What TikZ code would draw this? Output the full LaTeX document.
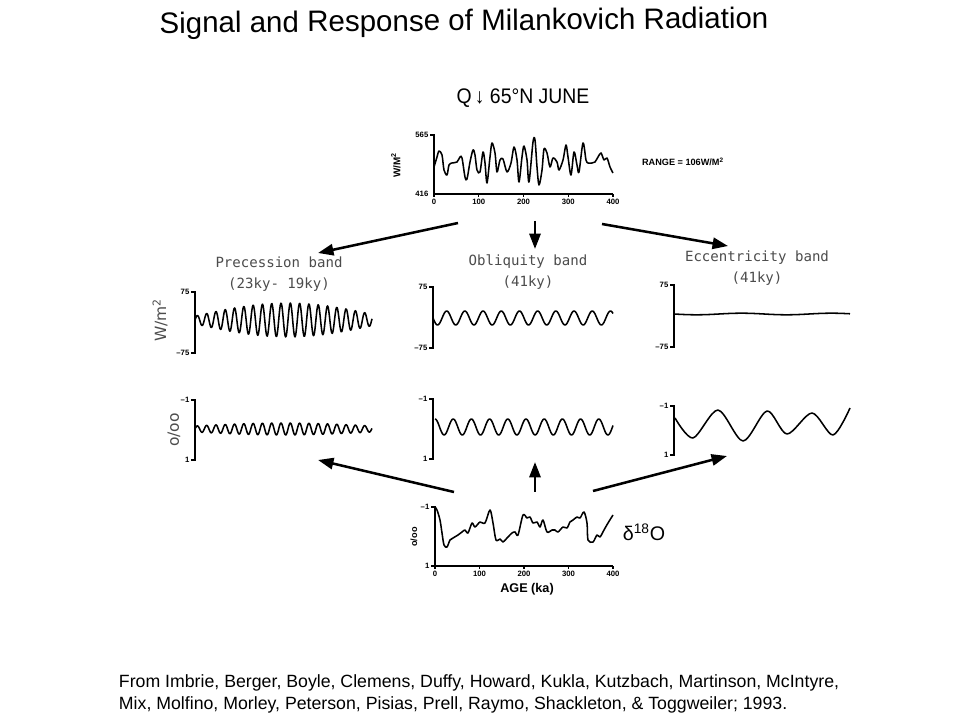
\documentclass[tikz,border=0pt]{standalone}
\usepackage{fontspec}
\setmainfont{Liberation Sans}
\newfontfamily\bandfont{DejaVu Sans Mono}
\newfontfamily\unitfont{DejaVu Sans}
\usetikzlibrary{arrows.meta}

\begin{document}
\begin{tikzpicture}[x=0.025cm, y=-0.025cm,
  curve/.style={line width=1.1pt, line join=round},
  axisline/.style={line width=0.9pt},
  bigarrow/.style={line width=1.8pt, -{Triangle[length=11pt, width=8pt]}},
  band/.style={font=\bandfont\fontsize{10}{15}\selectfont, text=black!70, align=center},
  tick/.style={font=\bfseries\fontsize{5.5}{6}\selectfont, inner sep=1pt},
  unit/.style={font=\unitfont\fontsize{11}{12}\selectfont, text=black!70, rotate=90}]
\useasboundingbox[fill=white] (0,0) rectangle (960,720);

\node[rotate=0.5] (title) at (464,23) {\fontsize{21}{24}\selectfont Signal and Response of Milankovich Radiation};

\node[xscale=0.92] (qtitle) at (523,98) {\fontsize{15}{16}\selectfont Q\,↓ 65°N JUNE};
\draw[axisline] (430,135) -- (434,135) -- (434,194) -- (613,194);
\foreach \v [count=\i from 0] in {0,100,200,300,400}
  \draw[axisline] (434+44.75*\i,194) -- ++(0,3) node[tick, below] (qx\i) {\v};
\node[tick, left] (qhi) at (430,135) {565};
\node[tick, left] (qlo) at (430,194) {416};
\node[tick, rotate=90, font=\bfseries\fontsize{7}{8}\selectfont] (qunit) at (396,165) {W/M\textsuperscript{2}};
\node[tick, font=\bfseries\fontsize{6.5}{7}\selectfont] (range) at (683,162) {RANGE = 106W/M\textsuperscript{2}};
\draw[curve] plot[smooth, tension=0.5] coordinates {(434,167) (437,157) (439,151) (442,155) (444,170) (447,175) (449,165) (452,163) (457,162) (460,157) (462,158) (465,177) (467,179) (470,162) (473,150) (475,155) (477,170) (480,172) (483,152) (485,163) (487,183) (490,157) (492,143) (495,153) (497,172) (500,160) (503,159) (507,172) (511,163) (514,147) (517,160) (519,182) (522,157) (524,146) (527,160) (529,182) (533,142) (535,140) (537,167) (539,185) (542,170) (544,149) (547,153) (550,167) (553,158) (557,162) (559,170) (563,160) (566,145) (568,157) (571,175) (574,152) (577,165) (579,172) (583,143) (586,160) (588,163) (592,163) (595,162) (598,157) (601,153) (604,160) (607,158) (610,167) (613,173)};

\coordinate (sigL) at (458,223);
\coordinate (sigM) at (535,221);
\coordinate (sigR) at (602,224);
\coordinate (tipL) at (318,253);
\coordinate (tipM) at (535,249);
\coordinate (tipR) at (728,246);
\draw[bigarrow] (sigL) -- (tipL);
\draw[bigarrow] (sigM) -- (tipM);
\draw[bigarrow] (sigR) -- (tipR);

\node[band] (prec) at (279,274) {Precession band\\(23ky- 19ky)};
\node[band] (obl) at (528,272) {Obliquity band\\(41ky)};
\node[band] (ecc) at (757,268) {Eccentricity band\\(41ky)};

\node[unit] (wm) at (160,320) {W/m\textsuperscript{2}};
\node[unit] (pm) at (174,430) {o/oo};

\draw[axisline] (191,292) -- (195,292) -- (195,353) -- (191,353);
\node[tick, left] at (191,292) {75};
\node[tick, left] at (191,353) {\textendash75};
\draw[curve] plot[domain=195:372, samples=300] (\x, {320 - (4+13*sin((\x-195)*0.973))*sin((\x-195)*38.71)});

\draw[axisline] (191,400) -- (195,400) -- (195,460) -- (191,460);
\node[tick, left] at (191,400) {\textendash1};
\node[tick, left] at (191,460) {1};
\draw[curve] plot[domain=195:372, samples=300] (\x, {429 - (3+3*sin((\x-195)*1.017))*sin((\x-195)*38.71)});

\draw[axisline] (429,287) -- (433,287) -- (433,348) -- (429,348);
\node[tick, left] at (429,287) {75};
\node[tick, left] at (429,348) {\textendash75};
\draw[curve] plot[domain=433:613, samples=200] (\x, {318 + 7*sin((\x-433)*19.78)});

\draw[axisline] (429,399) -- (433,399) -- (433,459) -- (429,459);
\node[tick, left] at (429,399) {\textendash1};
\node[tick, left] at (429,459) {1};
\draw[curve] plot[domain=435:613, samples=200] (\x, {427 - 8*cos((\x-435)*19.78)});

\draw[axisline] (670,285) -- (674,285) -- (674,347) -- (670,347);
\node[tick, left] at (670,285) {75};
\node[tick, left] at (670,347) {\textendash75};
\draw[curve] plot[domain=674:850, samples=60] (\x, {314 + 0.8*sin((\x-674)*4)});

\draw[axisline] (670,406) -- (674,406) -- (674,455) -- (670,455);
\node[tick, left] at (670,406) {\textendash1};
\node[tick, left] at (670,455) {1};
\draw[curve] plot[smooth] coordinates {(675,418) (693,438) (718,410) (743,441) (767,411) (787,434) (812,413) (833,435) (850,408)};

\coordinate (resL) at (454,492);
\coordinate (resM) at (535,492);
\coordinate (resR) at (593,491);
\coordinate (outL) at (318,460);
\coordinate (outM) at (535,462);
\coordinate (outR) at (727,456);
\draw[bigarrow] (resL) -- (outL);
\draw[bigarrow] (resM) -- (outM);
\draw[bigarrow] (resR) -- (outR);

\draw[axisline] (431,507) -- (435,507) -- (435,566) -- (613,566);
\draw[axisline] (431,566) -- (435,566);
\foreach \v [count=\i from 0] in {0,100,200,300,400}
  \draw[axisline] (435+44.5*\i,566) -- ++(0,3) node[tick, below] (ax\i) {\v};
\node[tick, left] (dhi) at (431,507) {\textendash1};
\node[tick, left] (dlo) at (431,566) {1};
\node[tick, rotate=90, font=\bfseries\fontsize{6.5}{7}\selectfont] (dunit) at (414,537) {o/oo};
\node[font=\bfseries\fontsize{9}{10}\selectfont] (age) at (527,589) {AGE (ka)};
\node[font=\fontsize{14}{16}\selectfont] (delta) at (644,532) {δ\textsuperscript{18}O};
\draw[curve] plot[smooth, tension=0.5] coordinates {(435,507) (437,510) (440,520) (442,533) (444,545) (447,547) (450,540) (453,538) (458,535) (462,532) (465,530) (468,533) (472,523) (475,527) (480,522) (485,523) (490,510) (493,523) (496,540) (500,539) (503,542) (507,538) (512,533) (515,532) (518,535) (523,515) (527,518) (530,517) (533,523) (537,522) (540,527) (543,520) (547,532) (552,530) (555,530) (558,532) (563,527) (567,528) (570,522) (573,520) (577,517) (580,518) (584,512) (587,523) (588,540) (593,542) (597,535) (600,537) (604,530) (608,523) (613,515)};

\node[anchor=north west, align=left, font=\fontsize{12.6}{15.5}\selectfont] (cite) at (114,670) {From Imbrie, Berger, Boyle, Clemens, Duffy, Howard, Kukla, Kutzbach, Martinson, McIntyre,\\Mix, Molfino, Morley, Peterson, Pisias, Prell, Raymo, Shackleton, \& Toggweiler; 1993.};
\end{tikzpicture}
\end{document}
